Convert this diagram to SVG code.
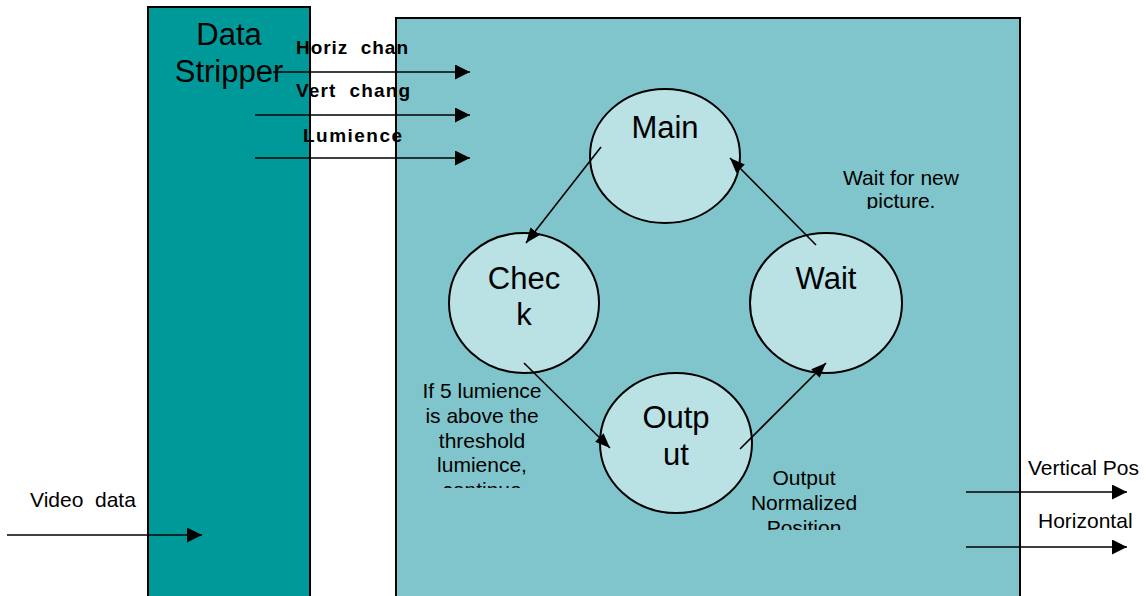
<svg xmlns="http://www.w3.org/2000/svg" width="1146" height="596" viewBox="0 0 1146 596">
  <style>
    .lbl { font-family: "Liberation Sans", Arial, sans-serif; fill: #000; }
    .big { font-size: 31px; }
    .mid { font-size: 21px; }
    .bold { font-size: 19px; font-weight: bold; }
    .edge { stroke: #000; stroke-width: 1.6; fill: none; }
    .state { fill: #BAE1E4; stroke: #000; stroke-width: 2; }
  </style>
  <defs>
    <marker id="ah" viewBox="0 0 15 15" refX="15" refY="7.5" markerWidth="15" markerHeight="15" markerUnits="userSpaceOnUse" orient="auto">
      <path d="M0,0 L15,7.5 L0,15 Z" fill="#000"/>
    </marker>
    <marker id="ah2" viewBox="0 0 15 12" refX="15" refY="6" markerWidth="15" markerHeight="12" markerUnits="userSpaceOnUse" orient="auto">
      <path d="M0,0 L15,6 L0,12 Z" fill="#000"/>
    </marker>
    <clipPath id="clipWaitNote"><rect x="820" y="160" width="170" height="49"/></clipPath>
    <clipPath id="clipCheckNote"><rect x="400" y="375" width="170" height="113"/></clipPath>
    <clipPath id="clipOutNote"><rect x="740" y="460" width="140" height="70"/></clipPath>
  </defs>

  <rect width="1146" height="596" fill="#fff"/>

  <!-- processing block -->
  <g id="processor">
    <rect x="396" y="18" width="624" height="590" fill="#80C5CB" stroke="#000" stroke-width="2"/>
  </g>

  <!-- data stripper block -->
  <g id="data-stripper">
    <rect x="148" y="7" width="162" height="600" fill="#009999" stroke="#000" stroke-width="2"/>
    <text class="lbl big" x="229" y="45" text-anchor="middle">Data</text>
    <text class="lbl big" x="229" y="82" text-anchor="middle">Stripper</text>
  </g>

  <!-- state machine nodes -->
  <g id="main">
    <ellipse class="state" cx="665" cy="156" rx="75" ry="67"/>
    <text class="lbl big" x="665" y="138" text-anchor="middle">Main</text>
  </g>
  <g id="check">
    <ellipse class="state" cx="524" cy="303" rx="75" ry="70"/>
    <text class="lbl big" x="524" y="289" text-anchor="middle">Chec</text>
    <text class="lbl big" x="524" y="325" text-anchor="middle">k</text>
  </g>
  <g id="wait">
    <ellipse class="state" cx="826" cy="303" rx="76" ry="70"/>
    <text class="lbl big" x="826" y="289" text-anchor="middle">Wait</text>
  </g>
  <g id="output">
    <ellipse class="state" cx="676" cy="443" rx="76" ry="70"/>
    <text class="lbl big" x="676" y="428" text-anchor="middle">Outp</text>
    <text class="lbl big" x="676" y="465" text-anchor="middle">ut</text>
  </g>

  <!-- connectors -->
  <g id="connectors">
    <line class="edge" x1="273" y1="72" x2="470" y2="72" marker-end="url(#ah)"/>
    <line class="edge" x1="255" y1="115" x2="470" y2="115" marker-end="url(#ah)"/>
    <line class="edge" x1="255" y1="158" x2="470" y2="158" marker-end="url(#ah)"/>
    <line class="edge" x1="7" y1="535" x2="202" y2="535" marker-end="url(#ah)"/>
    <line class="edge" x1="966" y1="492" x2="1127" y2="492" marker-end="url(#ah)"/>
    <line class="edge" x1="966" y1="547" x2="1127" y2="547" marker-end="url(#ah)"/>

    <line class="edge" x1="601" y1="147" x2="526" y2="243" marker-end="url(#ah2)"/>
    <line class="edge" x1="816" y1="245" x2="730" y2="158" marker-end="url(#ah2)"/>
    <line class="edge" x1="524" y1="363" x2="610" y2="448" marker-end="url(#ah2)"/>
    <line class="edge" x1="740" y1="449" x2="826" y2="363" marker-end="url(#ah2)"/>
  </g>

  <!-- signal labels -->
  <g id="signal-labels">
    <text class="lbl bold" x="296" y="54" textLength="112" lengthAdjust="spacing" xml:space="preserve">Horiz  chan</text>
    <text class="lbl bold" x="296" y="97" textLength="114" lengthAdjust="spacing" xml:space="preserve">Vert  chang</text>
    <text class="lbl bold" x="303" y="142" textLength="99" lengthAdjust="spacing">Lumience</text>
    <text class="lbl mid" x="30" y="507" xml:space="preserve">Video  data</text>
    <text class="lbl mid" x="1028" y="475">Vertical Pos</text>
    <text class="lbl mid" x="1038" y="528">Horizontal</text>
  </g>

  <!-- state notes -->
  <g id="notes">
    <g clip-path="url(#clipWaitNote)">
      <text class="lbl mid" x="901" y="185" text-anchor="middle">Wait for new</text>
      <text class="lbl mid" x="901" y="208" text-anchor="middle">picture.</text>
    </g>
    <g clip-path="url(#clipCheckNote)">
      <text class="lbl mid" x="482" y="398" text-anchor="middle">If 5 lumience</text>
      <text class="lbl mid" x="482" y="423" text-anchor="middle">is above the</text>
      <text class="lbl mid" x="482" y="448" text-anchor="middle">threshold</text>
      <text class="lbl mid" x="482" y="472" text-anchor="middle">lumience,</text>
      <text class="lbl mid" x="482" y="497" text-anchor="middle">continue</text>
    </g>
    <g clip-path="url(#clipOutNote)">
      <text class="lbl mid" x="804" y="485" text-anchor="middle">Output</text>
      <text class="lbl mid" x="804" y="510" text-anchor="middle">Normalized</text>
      <text class="lbl mid" x="804" y="535" text-anchor="middle">Position</text>
    </g>
  </g>
</svg>
